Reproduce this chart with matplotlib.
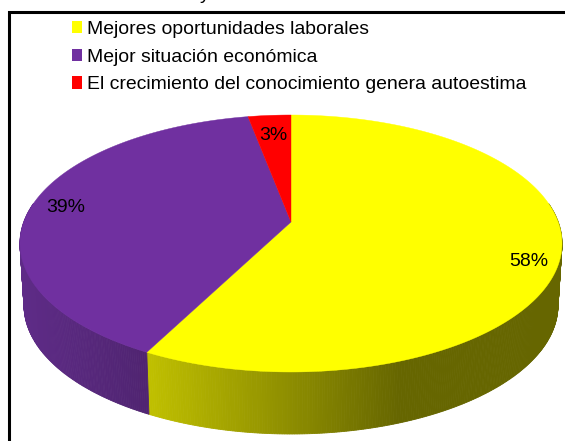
import numpy as np
import matplotlib
matplotlib.use("Agg")
import matplotlib.pyplot as plt
from matplotlib.patches import Patch

plt.rcParams['font.family'] = ['Liberation Sans', 'DejaVu Sans']

# Data
categories = ["Mejores oportunidades laborales", "Mejor situación económica",
              "El crecimiento del conocimiento genera autoestima"]
values = [57.6, 39.4, 3.0]
labels = ["58%", "39%", "3%"]
top_colors = ["#FFFF00", "#7030A0", "#FF0000"]
side_colors = [(0.75, 0.75, 0.0), (0.37, 0.17, 0.53), (0.7, 0.0, 0.0)]
side_dark = [(0.40, 0.40, 0.0), (0.31, 0.14, 0.44), (0.5, 0.0, 0.0)]

# pie geometry in image pixels
cx, cy = 291, 222
a, b, k = 267.2, 124.9, 0.1673
depth = 62
shrink = 0.985


def project(theta, scale=1.0, dy=0.0):
    # theta clockwise from top, small perspective on the disc
    u, v = np.sin(theta), np.cos(theta)
    d = 1 + k * v
    return cx + scale * a * u / d, cy - b * v / d + dy


fig = plt.figure(figsize=(5.65, 4.41), dpi=100)
ax = fig.add_axes([0, 0, 1, 1])
ax.set_xlim(0, 565)
ax.set_ylim(441, 0)
ax.axis("off")

# frame
ax.plot([9, 9, 566], [442, 12, 12], color="black", lw=2.2, solid_joinstyle="miter")

# bit of the cut off title above the frame
ax.text(205, -1, "y", fontsize=14, ha="center", va="baseline", color="black")

fracs = np.cumsum([0] + values) / sum(values)
edges = 2 * np.pi * fracs

# side wall, narrow strips so the shading can change with x
for i in range(len(values)):
    th = np.linspace(edges[i], edges[i + 1], max(int(values[i] * 8), 4))
    for t0, t1 in zip(th[:-1], th[1:]):
        if np.cos((t0 + t1) / 2) > 0.15:
            continue
        x0, y0 = project(t0)
        x1, y1 = project(t1)
        x2, y2 = project(t1, shrink, depth)
        x3, y3 = project(t0, shrink, depth)
        w = np.clip((((x0 + x1) / 2) - 150) / 250, 0, 1)
        if i == 1:
            w = np.clip((((x0 + x1) / 2) - 20) / 130, 0, 1)
        col = [c0 + (c1 - c0) * w for c0, c1 in zip(side_colors[i], side_dark[i])]
        ax.fill([x0, x1, x2, x3], [y0, y1, y2, y3], color=col, lw=0.6, zorder=2)

# top face
for i in range(len(values)):
    th = np.linspace(edges[i], edges[i + 1], 200)
    xs, ys = project(th)
    ax.fill(np.r_[cx, xs], np.r_[cy, ys], color=top_colors[i], lw=0.3, zorder=3)

# slice labels
label_pos = [(529, 262), (66, 208), (273, 135)]
for txt, (lx, ly) in zip(labels, label_pos):
    ax.text(lx, ly, txt, fontsize=14, ha="center", va="center", color="black", zorder=4)

handles = [Patch(facecolor=c, edgecolor="none", label=n) for c, n in zip(top_colors, categories)]
leg = ax.legend(handles=handles, loc="upper left", bbox_to_anchor=(72 / 565, 1 - 21 / 441),
                frameon=False, fontsize=13.95, handlelength=0.52, handleheight=0.6,
                handletextpad=0.26, labelspacing=0.55, borderpad=0, borderaxespad=0)

fig.savefig("out.png", dpi=100)
